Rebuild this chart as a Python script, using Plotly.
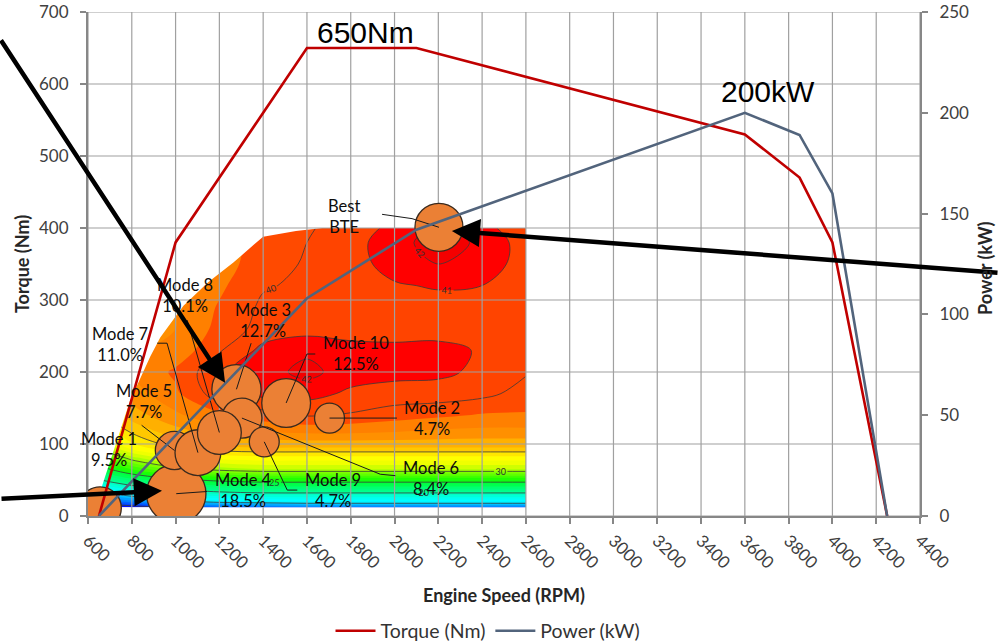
import plotly.graph_objects as go

# ---------------- full-load curves ----------------
curve_rpm = [650, 1000, 1600, 2100, 3600, 3850, 4000, 4250]
torque_nm = [0, 380, 650, 650, 530, 470, 380, 0]
power_kw = [0, 40, 108, 142, 200, 189, 160, 0]

# ---------------- brake thermal efficiency map (%) ----------------
map_rpm = [600, 800, 1000, 1200, 1400, 1600, 1800, 2000, 2200, 2400, 2600]
map_nm = [12, 20, 35, 50, 65, 80, 95, 115, 140, 170, 200, 230, 260, 290, 320, 350, 380, 400]
map_bte = [
    [8.5, 9.0, 10.5, 11.5, 12.0, 12.5, 12.5, 12.5, 12.5, 12.5, 12.5],
    [11.0, 12.5, 14.5, 15.5, 15.8, 16.0, 16.0, 16.0, 16.0, 16.0, 16.0],
    [15.0, 17.5, 19.5, 20.5, 21.0, 21.0, 21.0, 21.0, 21.0, 21.0, 21.0],
    [19.0, 22.5, 24.5, 25.5, 26.0, 26.0, 26.0, 26.0, 26.0, 26.0, 26.0],
    [23.0, 27.0, 29.5, 30.5, 31.0, 31.0, 31.0, 31.0, 31.0, 31.0, 31.0],
    [26.0, 30.5, 32.5, 33.2, 33.5, 33.5, 33.5, 33.5, 33.5, 33.5, 33.5],
    [29.5, 33.5, 35.0, 35.8, 36.0, 36.0, 36.0, 36.0, 36.0, 36.0, 36.0],
    [32.0, 35.0, 36.5, 37.3, 37.8, 38.0, 38.0, 37.9, 37.7, 37.6, 37.6],
    [34.0, 36.5, 37.8, 38.8, 39.6, 40.1, 39.9, 39.5, 39.2, 38.9, 38.9],
    [35.5, 37.5, 38.8, 40.6, 41.3, 41.4, 40.8, 40.6, 40.6, 40.3, 39.6],
    [36.0, 38.0, 39.2, 40.8, 41.6, 42.3, 41.5, 41.3, 41.2, 40.8, 40.1],
    [36.5, 37.8, 38.3, 39.9, 41.3, 41.8, 41.4, 41.3, 41.3, 40.9, 40.2],
    [36.5, 37.5, 38.0, 39.3, 40.4, 40.6, 40.5, 40.5, 40.6, 40.5, 40.2],
    [36.5, 37.5, 38.0, 39.1, 40.2, 40.4, 40.4, 40.5, 40.6, 40.5, 40.2],
    [36.5, 37.5, 38.0, 38.8, 39.9, 40.2, 40.5, 40.9, 41.1, 41.0, 40.4],
    [36.5, 37.5, 38.0, 38.5, 39.6, 40.1, 40.6, 41.4, 42.0, 41.5, 40.6],
    [36.5, 37.5, 38.0, 38.5, 39.4, 40.0, 40.6, 41.6, 42.5, 41.8, 40.5],
    [36.5, 37.5, 38.0, 38.5, 39.3, 39.9, 40.4, 41.3, 42.1, 41.5, 40.0],
]
# upper-left limit of the measured map area
map_edge_rpm = [630, 700, 792, 885, 930, 1036, 1150, 1264, 1400, 1550, 1700]
map_edge_nm = [10, 75, 160, 222, 248, 292, 325, 352, 388, 396, 401]

# ---------------- test modes (bubble area ~ time weighting) ----------------
mode_names = ["Mode 1", "Mode 2", "Mode 3", "Mode 4", "Mode 5",
              "Mode 6", "Mode 7", "Mode 8", "Mode 9", "Mode 10"]
mode_rpm = [655, 1703, 1278, 1003, 995, 1303, 1102, 1200, 1405, 1505]
mode_nm = [11, 136, 176, 31, 91, 136, 88, 116, 103, 157]
mode_weight = [9.5, 4.7, 12.7, 18.5, 7.7, 8.4, 11.0, 10.1, 4.7, 12.5]
best_rpm, best_nm = 2203, 401

# axis ticks
x_ticks = list(range(600, 4401, 200))
y_ticks = list(range(0, 701, 100))
p_ticks = list(range(0, 251, 50))

# label placement for each mode (label centre, leader end, optional elbow)
label_pos = {
    "Mode 1": (696, 92, None, None),
    "Mode 2": (2173, 135, (2011, 136), None),
    "Mode 3": (1397, 272, (1345, 240), None),
    "Mode 4": (1308, 35, (1143, 34), None),
    "Mode 5": (856, 159, (845, 126), None),
    "Mode 6": (2166, 52, (2004, 56), (1935, 58)),
    "Mode 7": (746, 238, (916, 240), (961, 240)),
    "Mode 8": (1043, 306, (1053, 272), None),
    "Mode 9": (1721, 35, (1556, 36), (1510, 36)),
    "Mode 10": (1824, 226, (1638, 225), (1600, 225)),
}

ORANGE = "#EB8035"

fig = go.Figure()

# ---- efficiency map: filled bands ----
band_colors = [
    "#0000FF", "#0010FF", "#0040FF", "#0060FF", "#0080FF", "#00A0FF", "#00C0FF",
    "#00F0FF", "#00FFFF", "#00FFF0", "#00FFD8", "#00FFC0",
    "#00FF90", "#00FF80", "#00FF70", "#00FF50", "#00FF40",
    "#10FF10", "#20FF00", "#40FF00", "#60FF00", "#80FF00",
    "#A8FF00", "#D0FF00", "#F0FF00", "#FFFF00", "#FFE800",
    "#FFC800", "#FFB000", "#FF9000", "#FF8000",
    "#FF4A00", "#FF4400", "#FF0000", "#F40000",
]
n_band = len(band_colors) - 1
band_scale = [[i / n_band, c] for i, c in enumerate(band_colors)]

fig.add_trace(go.Contour(
    x=map_rpm, y=map_nm, z=map_bte,
    contours=dict(start=9, end=42, size=1, coloring="fill"),
    colorscale=band_scale, showscale=False,
    line=dict(width=0, smoothing=1.0),
    hoverinfo="skip", showlegend=False,
))
# ---- iso-efficiency lines with labels ----
for start, end, size in [(10, 40, 5), (41, 42, 1)]:
    fig.add_trace(go.Contour(
        x=map_rpm, y=map_nm, z=map_bte,
        contours=dict(start=start, end=end, size=size, coloring="lines",
                      showlabels=True,
                      labelfont=dict(size=9, color="#303030", family="Lato")),
        colorscale=[[0, "#3a3a3a"], [1, "#3a3a3a"]], showscale=False,
        line=dict(width=0.8, smoothing=1.0),
        hoverinfo="skip", showlegend=False,
    ))

# ---- blank out the unmeasured corner above the map limit ----
mask_x = [590, map_edge_rpm[0]] + map_edge_rpm + [map_edge_rpm[-1], 590]
mask_y = [5, 5] + map_edge_nm + [410, 410]
fig.add_trace(go.Scatter(
    x=mask_x, y=mask_y, mode="lines", fill="toself",
    fillcolor="white", line=dict(width=0, color="white"),
    hoverinfo="skip", showlegend=False,
))

# ---- grid (drawn over the map) ----
gx, gy = [], []
for xv in x_ticks:
    gx += [xv, xv, None]
    gy += [y_ticks[0], y_ticks[-1], None]
for yv in y_ticks:
    gx += [x_ticks[0], x_ticks[-1], None]
    gy += [yv, yv, None]
fig.add_trace(go.Scatter(
    x=gx, y=gy, mode="lines", line=dict(color="#A0A0A0", width=1.2),
    hoverinfo="skip", showlegend=False,
))

# ---- mode bubbles ----
fig.add_trace(go.Scatter(
    x=mode_rpm, y=mode_nm, mode="markers",
    marker=dict(size=mode_weight, sizemode="area",
                sizeref=max(mode_weight) / 42.0 ** 2, opacity=1,
                color=ORANGE, line=dict(color="#3a2a1e", width=1.3)),
    text=mode_names, hoverinfo="text", showlegend=False,
))
fig.add_trace(go.Scatter(
    x=[best_rpm], y=[best_nm], mode="markers",
    marker=dict(size=48, color=ORANGE, opacity=1,
                line=dict(color="#3a2a1e", width=1.3)),
    hoverinfo="skip", showlegend=False,
))

# ---- leader lines ----
lx, ly = [], []
for name, r, t in zip(mode_names, mode_rpm, mode_nm):
    _, _, end, elbow = label_pos[name]
    if end is None:
        continue
    lx.append(r)
    ly.append(t)
    if elbow is not None:
        lx.append(elbow[0])
        ly.append(elbow[1])
    lx += [end[0], None]
    ly += [end[1], None]
lx += [best_rpm, 2080, 1943, None]
ly += [best_nm, 413, 419, None]
fig.add_trace(go.Scatter(
    x=lx, y=ly, mode="lines", line=dict(color="#1a1a1a", width=1),
    hoverinfo="skip", showlegend=False,
))

# ---- full-load torque and power ----
fig.add_trace(go.Scatter(
    x=curve_rpm, y=torque_nm, mode="lines", name="Torque (Nm)",
    line=dict(color="#C00000", width=2.6),
))
fig.add_trace(go.Scatter(
    x=curve_rpm, y=power_kw, mode="lines", name="Power (kW)", yaxis="y2",
    line=dict(color="#52647C", width=2.6),
))

# ---- annotations ----
ann = []
label_font = dict(family="Lato", size=16.5, color="#0d0d0d")
for name, w in zip(mode_names, mode_weight):
    cx, cy, _, _ = label_pos[name]
    ann.append(dict(x=cx, y=cy, xref="x", yref="y", showarrow=False,
                    text=f"{name}<br>{w:.1f}%", align="center", font=label_font))
ann.append(dict(x=1769, y=416, xref="x", yref="y", showarrow=False,
                text="Best<br>BTE", align="center", font=label_font))
ann.append(dict(x=1869, y=671, xref="x", yref="y", showarrow=False,
                text=f"{max(torque_nm)}Nm",
                font=dict(family="Liberation Sans", size=30, color="black")))
ann.append(dict(x=3707, y=589, xref="x", yref="y", showarrow=False,
                text=f"{max(power_kw)}kW",
                font=dict(family="Liberation Sans", size=30, color="black")))
# pointer arrows
for tip_x, tip_y, ax, ay in [(1226, 185, -250, -344), (938, 35, -180, 8), (2262, 396, 570, 42)]:
    ann.append(dict(x=tip_x, y=tip_y, xref="x", yref="y", ax=ax, ay=ay,
                    text="", showarrow=True, arrowhead=2, arrowsize=1.25,
                    arrowwidth=4.5, arrowcolor="black"))
# axis titles
title_font = dict(family="Lato", size=18, color="#262626", weight="bold")
ann.append(dict(x=-0.0793, y=0.5, xref="paper", yref="paper", showarrow=False,
                xanchor="center", yanchor="middle",
                text="Torque (Nm)", textangle=-90, font=title_font))
ann.append(dict(x=1.0781, y=0.492, xref="paper", yref="paper", showarrow=False,
                xanchor="center", yanchor="middle",
                text="Power (kW)", textangle=-90, font=title_font))
ann.append(dict(x=0.5, y=-0.1558, xref="paper", yref="paper", showarrow=False,
                xanchor="center", yanchor="middle",
                text="Engine Speed (RPM)", font=title_font))

axis_common = dict(showgrid=False, zeroline=False, showline=True, automargin=False,
                   linecolor="#878787", linewidth=2, ticks="outside",
                   ticklen=6, tickcolor="#878787", tickwidth=1.5,
                   tickfont=dict(family="Lato", size=17, color="#404040"))

fig.update_layout(
    width=999, height=642,
    margin=dict(l=88, r=79, t=12, b=126, autoexpand=False),
    paper_bgcolor="white", plot_bgcolor="white",
    font=dict(family="Lato", size=17, color="#404040"),
    legend=dict(orientation="h", xref="container", yref="container",
                x=0.4885, xanchor="center", y=0.017, yanchor="middle",
                font=dict(family="Lato", size=19.5, color="#333333"),
                itemwidth=40, bgcolor="rgba(0,0,0,0)"),
    xaxis=dict(range=[x_ticks[0], x_ticks[-1]], tickvals=x_ticks, tickangle=45,
               **axis_common),
    yaxis=dict(range=[y_ticks[0], y_ticks[-1]], tickvals=y_ticks,
               ticklabelstandoff=8, **axis_common),
    yaxis2=dict(range=[p_ticks[0], p_ticks[-1]], tickvals=p_ticks, overlaying="y",
                side="right", ticklabelstandoff=8, **axis_common),
    annotations=ann,
)

fig.write_html("out.html")
